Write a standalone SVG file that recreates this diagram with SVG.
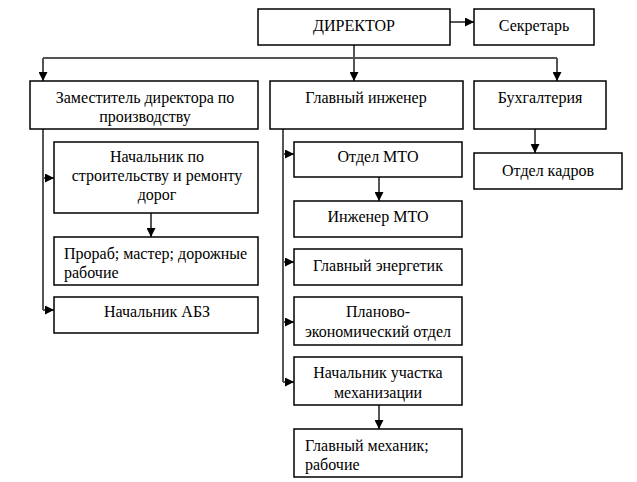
<svg xmlns="http://www.w3.org/2000/svg" width="637" height="482" viewBox="0 0 637 482">
<defs>
<marker id="ah" viewBox="0 0 10 10" refX="10" refY="5" markerWidth="9" markerHeight="9" markerUnits="userSpaceOnUse" orient="auto">
<path d="M0,0 L10,5 L0,10 z" fill="#000"/>
</marker>
<style>
.box{fill:#fff;stroke:#000;stroke-width:1.5}
.t{font-family:"Liberation Serif","Times New Roman",serif;font-size:16px;fill:#000}
.c{text-anchor:middle}
.ln{fill:none;stroke:#555;stroke-width:2}
.ar{fill:none;stroke:#555;stroke-width:2;marker-end:url(#ah)}
</style>
</defs>
<rect width="637" height="482" fill="#fff"/>
<g id="connectors">
<path class="ar" d="M450,22 H474"/>
<path class="ln" d="M354,45 V58"/>
<path class="ln" d="M43,58 H557"/>
<path class="ar" d="M43,58 V81"/>
<path class="ar" d="M354,58 V81"/>
<path class="ar" d="M557,58 V81"/>
<path class="ln" d="M43,129 V310"/>
<path class="ar" d="M43,178 H54"/>
<path class="ar" d="M43,310 H54"/>
<path class="ar" d="M151,213 V237"/>
<path class="ln" d="M283,129 V382"/>
<path class="ar" d="M283,154 H294"/>
<path class="ar" d="M283,262 H294"/>
<path class="ar" d="M283,322 H294"/>
<path class="ar" d="M283,382 H294"/>
<path class="ar" d="M379,177 V201"/>
<path class="ar" d="M379,405 V429"/>
<path class="ar" d="M535,129 V153"/>
</g>
<g id="director"><rect class="box" x="258" y="9" width="192" height="36"/><text class="t c" x="354" y="31">ДИРЕКТОР</text></g>
<g id="secretary"><rect class="box" x="474" y="9" width="120" height="36"/><text class="t c" x="534" y="31">Секретарь</text></g>
<g id="deputy"><rect class="box" x="30" y="81" width="228" height="48"/><text class="t c" x="145" y="103">Заместитель директора по</text><text class="t c" x="145" y="122">производству</text></g>
<g id="chief-engineer"><rect class="box" x="270" y="81" width="193" height="48"/><text class="t c" x="366" y="103">Главный инженер</text></g>
<g id="accounting"><rect class="box" x="474" y="81" width="132" height="48"/><text class="t c" x="540" y="103">Бухгалтерия</text></g>
<g id="roads-head"><rect class="box" x="54" y="142" width="204" height="71"/><text class="t c" x="157" y="162">Начальник по</text><text class="t c" x="157" y="181">строительству и ремонту</text><text class="t c" x="157" y="200">дорог</text></g>
<g id="foreman"><rect class="box" x="54" y="237" width="204" height="48"/><text class="t" x="64" y="259">Прораб; мастер; дорожные</text><text class="t" x="64" y="278">рабочие</text></g>
<g id="abz-head"><rect class="box" x="54" y="297" width="204" height="36"/><text class="t c" x="157" y="317">Начальник АБЗ</text></g>
<g id="mto-dept"><rect class="box" x="294" y="142" width="168" height="35"/><text class="t c" x="378" y="162">Отдел МТО</text></g>
<g id="mto-engineer"><rect class="box" x="294" y="201" width="168" height="36"/><text class="t c" x="378" y="222">Инженер МТО</text></g>
<g id="chief-power"><rect class="box" x="294" y="249" width="168" height="36"/><text class="t c" x="378" y="271">Главный энергетик</text></g>
<g id="planning"><rect class="box" x="294" y="297" width="168" height="48"/><text class="t c" x="378" y="317">Планово-</text><text class="t c" x="378" y="337">экономический отдел</text></g>
<g id="mech-head"><rect class="box" x="294" y="357" width="168" height="48"/><text class="t c" x="378" y="378">Начальник участка</text><text class="t c" x="378" y="398">механизации</text></g>
<g id="chief-mech"><rect class="box" x="294" y="429" width="168" height="48"/><text class="t" x="305" y="451">Главный механик;</text><text class="t" x="305" y="470">рабочие</text></g>
<g id="hr"><rect class="box" x="474" y="153" width="148" height="36"/><text class="t c" x="548" y="176">Отдел кадров</text></g>
</svg>
